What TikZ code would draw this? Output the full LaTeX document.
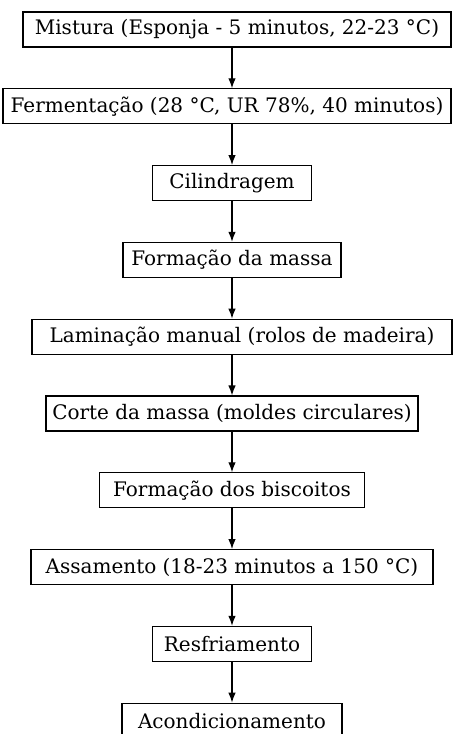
\documentclass[tikz,border=0pt]{standalone}
\usepackage{fontspec}
\setmainfont{DejaVu Serif}
\usepackage{tikz}
\usetikzlibrary{arrows.meta,positioning}

\tikzset{
    procbox/.style={draw, line width=1.1pt, minimum height=35pt, inner xsep=4pt,
        inner ysep=0pt, font=\fontsize{20}{24}\selectfont},
    flowarrow/.style={-{Latex[length=10pt,width=7.5pt]}, line width=1.2pt}
}

\begin{document}
\begin{tikzpicture}[node distance=40.7pt]
    \useasboundingbox (0,0) rectangle (454pt,-734pt);
    % column of the arrows
    \coordinate (col) at (232pt,0);

    % process steps, top to bottom
    \node[procbox, minimum width=428pt] (mis) at (237pt,-29.5pt) {Mistura (Esponja - 5 minutos, 22-23 °C)};
    \node[procbox, minimum width=448pt, below=of mis, xshift=-10pt] (fer) {Fermentação (28 °C, UR 78\%, 40 minutos)};
    \node[procbox, minimum width=159pt, below=of fer, xshift=5pt] (cil) {Cilindragem};
    \node[procbox, minimum width=218pt, below=of cil] (fmas) {Formação da massa};
    \node[procbox, minimum width=420pt, below=of fmas, xshift=10pt] (lam) {Laminação manual (rolos de madeira)};
    \node[procbox, minimum width=372pt, below=of lam, xshift=-10pt] (cor) {Corte da massa (moldes circulares)};
    \node[procbox, minimum width=265pt, below=of cor] (fbis) {Formação dos biscoitos};
    \node[procbox, minimum width=402pt, below=of fbis] (ass) {Assamento (18-23 minutos a 150 °C)};
    \node[procbox, minimum width=159pt, below=of ass] (res) {Resfriamento};
    \node[procbox, minimum width=220pt, below=of res] (aco) {Acondicionamento};

    % arrows between the steps
    \foreach \a/\b in {mis/fer, fer/cil, cil/fmas, fmas/lam, lam/cor, cor/fbis, fbis/ass, ass/res, res/aco}
        \draw[flowarrow] (\a.south -| col) -- (\b.north -| col);
\end{tikzpicture}
\end{document}
